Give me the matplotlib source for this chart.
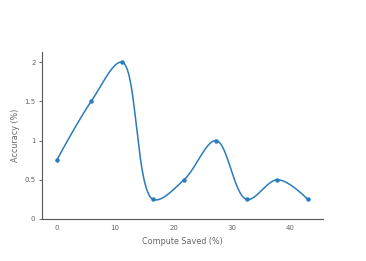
import numpy as np
import matplotlib
matplotlib.use("Agg")
import matplotlib.pyplot as plt

compute_saved = [0.0, 5.9, 11.2, 16.5, 21.8, 27.3, 32.5, 37.8, 43.0]
accuracy = [0.75, 1.5, 2.0, 0.25, 0.5, 1.0, 0.25, 0.5, 0.25]

LINE = "#2a7bbd"
AXC = "#555555"
TXT = "#666666"


def tangent(p0, p1, p2, smooth=1.0):
    # plotly-style Catmull-Rom control points (pixel space)
    d1 = p0 - p1
    d2 = p2 - p1
    d1a = np.hypot(*d1) ** 0.5
    d2a = np.hypot(*d2) ** 0.5
    num = (d2a * d2a * d1 - d1a * d1a * d2) * smooth
    den1 = 3 * d2a * (d1a + d2a)
    den2 = 3 * d1a * (d1a + d2a)
    return p1 + num / den1, p1 - num / den2


def bez(pts, n=60):
    t = np.linspace(0, 1, n)[:, None]
    if len(pts) == 3:
        a, b, c = pts
        return (1 - t) ** 2 * a + 2 * (1 - t) * t * b + t ** 2 * c
    a, b, c, d = pts
    return ((1 - t) ** 3 * a + 3 * (1 - t) ** 2 * t * b
            + 3 * (1 - t) * t ** 2 * c + t ** 3 * d)


def spline(ax, x, y):
    P = ax.transData.transform(np.column_stack([x, y]))
    tg = [tangent(P[i - 1], P[i], P[i + 1]) for i in range(1, len(P) - 1)]
    segs = [bez([P[0], tg[0][0], P[1]])]
    for i in range(2, len(P) - 1):
        segs.append(bez([P[i - 1], tg[i - 2][1], tg[i - 1][0], P[i]]))
    segs.append(bez([P[-2], tg[-1][1], P[-1]]))
    curve = np.vstack(segs)
    return ax.transData.inverted().transform(curve)


fig = plt.figure(figsize=(3.66, 2.61), dpi=100)
ax = fig.add_axes([0.114, 0.161, 0.7685, 0.64])
ax.set_xlim(-2.57, 45.6)
ax.set_ylim(0, 2.13)

c = spline(ax, compute_saved, accuracy)
ax.plot(c[:, 0], c[:, 1], color=LINE, lw=1.1, solid_capstyle="round")
ax.plot(compute_saved, accuracy, "o", color=LINE, ms=2.2)

ax.set_xticks([0, 10, 20, 30, 40])
ax.set_yticks([0, 0.5, 1, 1.5, 2])
ax.set_yticklabels(["0", "0.5", "1", "1.5", "2"])
for s in ("top", "right"):
    ax.spines[s].set_visible(False)
for s in ("left", "bottom"):
    ax.spines[s].set_color(AXC)
    ax.spines[s].set_linewidth(0.8)
ax.tick_params(axis="y", colors=AXC, labelcolor=TXT, labelsize=5, length=2.5,
               width=0.6, pad=2)
ax.tick_params(axis="x", colors=AXC, labelcolor=TXT, labelsize=5, length=0,
               pad=4.5)
ax.set_xlabel("Compute Saved (%)", fontsize=5.8, color=TXT, labelpad=4)
ax.set_ylabel("Accuracy (%)", fontsize=5.8, color=TXT, labelpad=3)

fig.savefig("out.png", dpi=100)
